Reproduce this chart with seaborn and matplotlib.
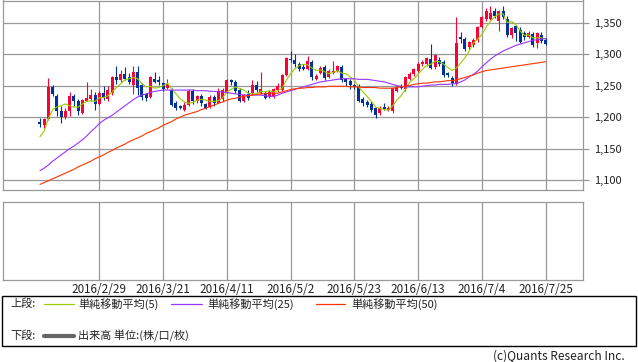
import matplotlib
matplotlib.use("Agg")
import matplotlib.pyplot as plt
from matplotlib.lines import Line2D
import seaborn as sns
import pandas as pd
import numpy as np

sns.set_theme(style="white")
plt.rcParams['font.family'] = ['Noto Sans CJK JP', 'DejaVu Sans']

# daily candles, 2016-02-09 .. 2016-07-25 (weekdays)
dates = pd.bdate_range("2016-02-09", periods=120)

opens = [1192, 1187, 1197, 1248, 1234, 1210, 1200, 1209, 1233, 1226,
         1207, 1226, 1228, 1235, 1221, 1238, 1228, 1238, 1264, 1259,
         1268, 1263, 1251, 1272, 1251, 1237, 1232, 1261, 1259, 1254,
         1247, 1243, 1222, 1217, 1211, 1219, 1242, 1226, 1234, 1221,
         1216, 1232, 1223, 1228, 1240, 1259, 1256, 1243, 1226, 1236,
         1238, 1251, 1239, 1238, 1232, 1233, 1243, 1243, 1267, 1293,
         1291, 1285, 1280, 1277, 1288, 1261, 1270, 1280, 1263, 1270,
         1274, 1280, 1260, 1257, 1251, 1249, 1229, 1224, 1221, 1214,
         1206, 1216, 1212, 1210, 1242, 1249, 1244, 1261, 1268, 1273,
         1284, 1284, 1293, 1279, 1290, 1288, 1270, 1262, 1253, 1327,
         1324, 1311, 1315, 1322, 1343, 1356, 1356, 1369, 1353, 1369,
         1356, 1330, 1344, 1339, 1334, 1327, 1332, 1317, 1331, 1323]
highs = [1198, 1198, 1262, 1251, 1237, 1217, 1214, 1240, 1237, 1228,
         1229, 1255, 1244, 1240, 1242, 1249, 1250, 1265, 1281, 1275,
         1280, 1270, 1282, 1282, 1254, 1238, 1265, 1272, 1265, 1256,
         1260, 1246, 1225, 1219, 1224, 1244, 1244, 1235, 1236, 1223,
         1235, 1235, 1246, 1246, 1261, 1261, 1259, 1246, 1237, 1243,
         1259, 1258, 1272, 1242, 1243, 1247, 1254, 1268, 1296, 1305,
         1301, 1288, 1285, 1297, 1290, 1269, 1281, 1283, 1277, 1289,
         1283, 1283, 1262, 1260, 1253, 1252, 1232, 1227, 1225, 1216,
         1218, 1222, 1218, 1247, 1251, 1252, 1266, 1272, 1278, 1287,
         1291, 1296, 1316, 1301, 1296, 1290, 1272, 1265, 1359, 1335,
         1328, 1321, 1326, 1345, 1361, 1374, 1376, 1373, 1370, 1376,
         1360, 1343, 1347, 1343, 1337, 1337, 1335, 1335, 1335, 1326]
lows = [1185, 1183, 1195, 1233, 1202, 1191, 1197, 1201, 1217, 1203,
        1205, 1225, 1225, 1211, 1219, 1227, 1226, 1235, 1253, 1256,
        1259, 1253, 1237, 1235, 1227, 1226, 1231, 1254, 1251, 1242,
        1245, 1217, 1212, 1213, 1209, 1218, 1221, 1222, 1217, 1213,
        1214, 1218, 1222, 1226, 1238, 1251, 1239, 1224, 1224, 1227,
        1235, 1240, 1237, 1228, 1230, 1231, 1240, 1242, 1265, 1288,
        1280, 1273, 1275, 1275, 1259, 1259, 1268, 1259, 1262, 1268,
        1272, 1256, 1249, 1245, 1244, 1224, 1218, 1216, 1208, 1198,
        1204, 1211, 1210, 1207, 1240, 1244, 1241, 1259, 1266, 1272,
        1282, 1282, 1277, 1277, 1281, 1264, 1263, 1250, 1251, 1317,
        1305, 1309, 1312, 1319, 1341, 1353, 1354, 1357, 1337, 1356,
        1327, 1325, 1321, 1317, 1323, 1325, 1312, 1310, 1318, 1314]
closes = [1189, 1197, 1248, 1237, 1209, 1200, 1210, 1233, 1226, 1209,
          1227, 1231, 1235, 1221, 1239, 1231, 1243, 1264, 1259, 1268,
          1260, 1256, 1272, 1247, 1232, 1231, 1263, 1256, 1255, 1244,
          1252, 1219, 1214, 1214, 1220, 1242, 1225, 1233, 1222, 1214,
          1232, 1222, 1242, 1243, 1259, 1255, 1242, 1226, 1235, 1230,
          1251, 1243, 1245, 1230, 1240, 1244, 1249, 1267, 1294, 1290,
          1284, 1277, 1277, 1289, 1263, 1266, 1278, 1262, 1274, 1274,
          1281, 1259, 1255, 1251, 1248, 1226, 1222, 1219, 1211, 1203,
          1215, 1213, 1215, 1246, 1248, 1247, 1264, 1269, 1276, 1285,
          1288, 1294, 1278, 1298, 1284, 1267, 1267, 1254, 1317, 1324,
          1309, 1319, 1323, 1343, 1359, 1369, 1365, 1360, 1368, 1359,
          1330, 1342, 1334, 1319, 1327, 1334, 1314, 1334, 1321, 1316]

ma5 = [1169, 1178, 1198, 1212, 1216, 1218, 1221, 1218, 1216, 1216,
       1221, 1225, 1226, 1225, 1231, 1231, 1234, 1240, 1247, 1253,
       1259, 1261, 1263, 1261, 1253, 1248, 1249, 1246, 1247, 1250,
       1254, 1245, 1237, 1229, 1224, 1222, 1223, 1227, 1228, 1227,
       1225, 1225, 1226, 1231, 1240, 1244, 1248, 1245, 1243, 1238,
       1237, 1237, 1241, 1240, 1242, 1240, 1242, 1246, 1259, 1269,
       1277, 1282, 1284, 1283, 1278, 1274, 1275, 1272, 1269, 1271,
       1274, 1270, 1269, 1264, 1259, 1248, 1240, 1233, 1225, 1216,
       1214, 1212, 1211, 1218, 1227, 1234, 1244, 1255, 1261, 1268,
       1276, 1282, 1284, 1289, 1288, 1284, 1279, 1274, 1278, 1286,
       1294, 1305, 1318, 1324, 1331, 1343, 1352, 1359, 1364, 1364,
       1350, 1352, 1347, 1337, 1330, 1331, 1326, 1326, 1326, 1324]
ma25 = [1115, 1119, 1124, 1130, 1135, 1140, 1145, 1150, 1154, 1159,
        1164, 1170, 1177, 1183, 1190, 1195, 1199, 1203, 1208, 1213,
        1218, 1223, 1228, 1232, 1235, 1237, 1239, 1241, 1242, 1243,
        1243, 1243, 1243, 1243, 1243, 1243, 1243, 1242, 1242, 1242,
        1241, 1241, 1240, 1240, 1239, 1238, 1237, 1236, 1235, 1235,
        1235, 1235, 1235, 1234, 1233, 1233, 1235, 1238, 1240, 1242,
        1244, 1246, 1248, 1250, 1252, 1254, 1256, 1257, 1258, 1259,
        1260, 1261, 1261, 1261, 1261, 1260, 1260, 1260, 1259, 1258,
        1257, 1256, 1254, 1252, 1250, 1249, 1248, 1248, 1248, 1248,
        1249, 1250, 1251, 1251, 1252, 1252, 1252, 1253, 1253, 1256,
        1259, 1264, 1268, 1273, 1280, 1286, 1292, 1297, 1301, 1305,
        1308, 1311, 1314, 1316, 1318, 1320, 1322, 1323, 1324, 1325]
ma50 = [1093, 1096, 1099, 1102, 1105, 1108, 1111, 1114, 1117, 1121,
        1124, 1127, 1130, 1134, 1137, 1140, 1144, 1147, 1151, 1154,
        1157, 1161, 1164, 1167, 1170, 1174, 1177, 1180, 1183, 1187,
        1190, 1193, 1197, 1200, 1203, 1205, 1207, 1209, 1212, 1214,
        1217, 1219, 1222, 1224, 1227, 1229, 1230, 1232, 1233, 1234,
        1235, 1236, 1237, 1237, 1238, 1238, 1238, 1240, 1242, 1244,
        1245, 1246, 1246, 1247, 1247, 1248, 1248, 1248, 1249, 1249,
        1249, 1249, 1249, 1248, 1248, 1248, 1247, 1247, 1247, 1247,
        1246, 1246, 1246, 1246, 1247, 1248, 1249, 1250, 1252, 1253,
        1254, 1254, 1255, 1256, 1256, 1257, 1258, 1258, 1259, 1261,
        1263, 1265, 1267, 1270, 1272, 1274, 1275, 1276, 1277, 1278,
        1279, 1280, 1281, 1282, 1283, 1284, 1285, 1286, 1287, 1288]

tick_dates = ["2016-02-29", "2016-03-21", "2016-04-11", "2016-05-02",
              "2016-05-23", "2016-06-13", "2016-07-04", "2016-07-25"]
tick_labels = ["2016/2/29", "2016/3/21", "2016/4/11", "2016/5/2",
               "2016/5/23", "2016/6/13", "2016/7/4", "2016/7/25"]
price_ticks = [1100, 1150, 1200, 1250, 1300, 1350]

df = pd.DataFrame({"date": dates, "open": opens, "high": highs, "low": lows,
                   "close": closes, "ma5": ma5, "ma25": ma25, "ma50": ma50})
df["x"] = np.arange(len(df))
tick_pos = [int(df.index[df["date"] == pd.Timestamp(d)][0]) for d in tick_dates]

UP, DOWN = "#ff0033", "#003399"
GRID = "#999999"
W, H = 638, 362

fig = plt.figure(figsize=(W / 100, H / 100), dpi=100)


def px_axes(x0, y0, x1, y1):
    return fig.add_axes([x0 / W, 1 - y1 / H, (x1 - x0) / W, (y1 - y0) / H])


ax = px_axes(3, 0.5, 583, 190.3)
axv = px_axes(3, 201.7, 583, 280)

xlim = (-8.7, 127.8)

# --- price panel ---
for ypos in price_ticks:
    ax.axhline(ypos, color=GRID, lw=0.9, zorder=0)
for xp in tick_pos:
    ax.axvline(xp, color=GRID, lw=0.9, zorder=0)

colors = np.where(df["close"] >= df["open"], UP, DOWN)
ax.vlines(df["x"], df["low"], df["high"], colors=colors, lw=0.8, zorder=2)
body = (df["close"] - df["open"]).abs().clip(lower=0.8)
ax.bar(df["x"], body, bottom=df[["open", "close"]].min(axis=1), width=0.72,
       color=colors, linewidth=0, zorder=3)

sns.lineplot(data=df, x="x", y="ma5", ax=ax, color="#99cc00", lw=0.8, zorder=4)
sns.lineplot(data=df, x="x", y="ma25", ax=ax, color="#9933ff", lw=0.8, zorder=4)
sns.lineplot(data=df, x="x", y="ma50", ax=ax, color="#ff3300", lw=0.8, zorder=4)

ax.set_xlim(*xlim)
ax.set_ylim(1083.7, 1385.3)
ax.set_xlabel("")
ax.set_ylabel("")
ax.set_xticks([])
ax.yaxis.tick_right()
ax.set_yticks(price_ticks)
ax.set_yticklabels([f"{v:,}" for v in price_ticks])
ax.tick_params(axis="y", which="major", length=4, width=0.9, color=GRID,
               pad=4, labelsize=8, labelcolor="#222222", direction="out")
for s in ax.spines.values():
    s.set_color(GRID)
    s.set_linewidth(0.9)

# --- volume panel (empty) ---
for xp in tick_pos:
    axv.axvline(xp, color=GRID, lw=0.9, zorder=0)
axv.set_xlim(*xlim)
axv.set_ylim(0, 1)
axv.set_yticks([])
axv.set_xticks(tick_pos)
axv.set_xticklabels(tick_labels)
axv.tick_params(axis="x", length=0, pad=2.5, labelsize=8.4, labelcolor="#222222")
for s in axv.spines.values():
    s.set_color(GRID)
    s.set_linewidth(0.9)

# --- legend box ---
fig.patches.append(plt.Rectangle((2.5 / W, 1 - 346 / H), 633.5 / W, 50 / H,
                                 transform=fig.transFigure, fill=False,
                                 edgecolor="black", lw=1.0))


def ftxt(x, y, s, size=8.0):
    fig.text(x / W, 1 - y / H, s, fontsize=size, color="#222222",
             va="center", ha="left")


def fline(x0, x1, y, color, lw):
    fig.add_artist(Line2D([x0 / W, x1 / W], [1 - y / H, 1 - y / H],
                          transform=fig.transFigure, color=color, lw=lw))


row1, row2 = 304, 336
ftxt(10, row1, "上段:")
fline(44, 74, row1, "#99cc00", 0.9)
ftxt(78, row1, "単純移動平均(5)")
fline(171, 202, row1, "#9933ff", 0.9)
ftxt(207, row1, "単純移動平均(25)")
fline(316, 345, row1, "#ff3300", 0.9)
ftxt(351, row1, "単純移動平均(50)")

ftxt(10, row2, "下段:")
fline(44, 74, row2, "#666666", 3.0)
ftxt(78, row2, "出来高 単位:(株/口/枚)")

fig.text(625 / W, 1 - 356 / H, "(c)Quants Research Inc.", fontsize=8.6,
         color="#222222", ha="right", va="center")

fig.savefig("out.png", dpi=100)
